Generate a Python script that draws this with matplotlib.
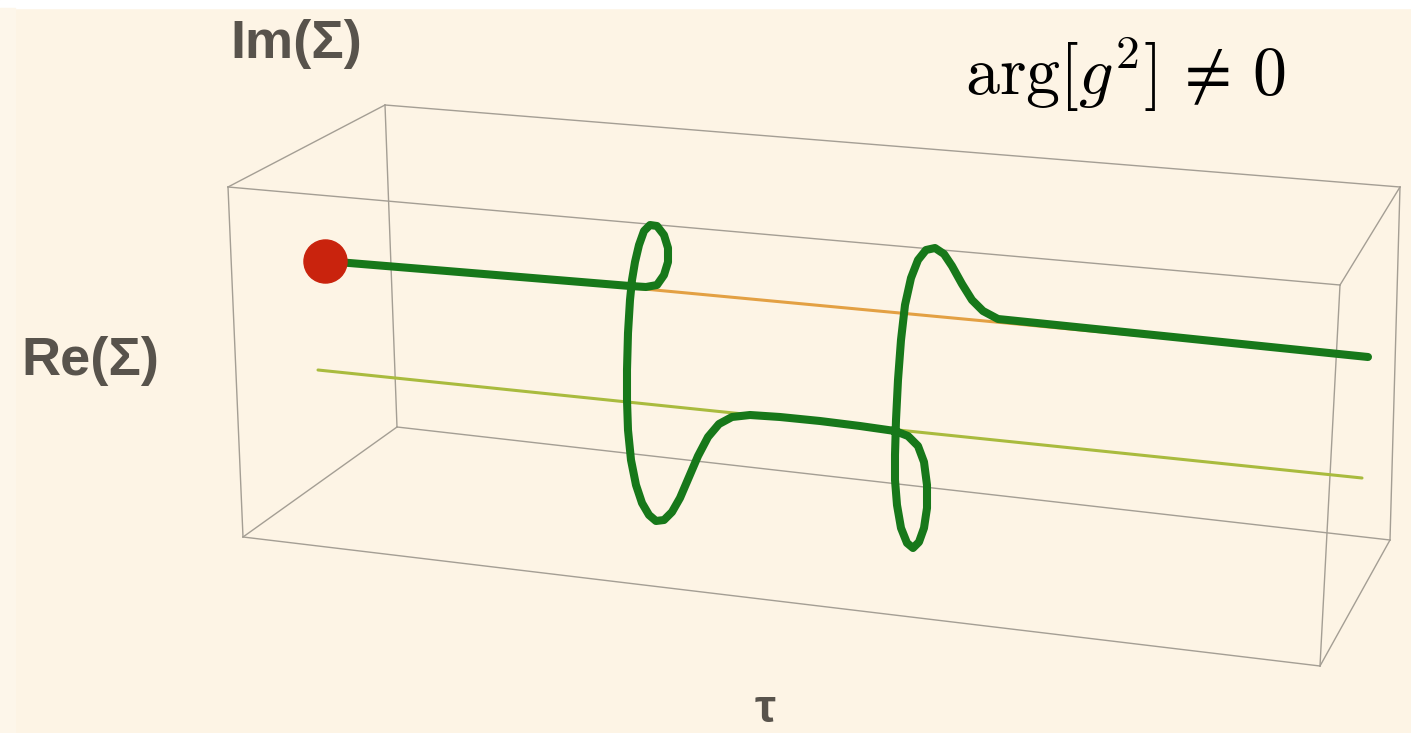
import matplotlib.pyplot as plt
from matplotlib.patches import Rectangle

# Box corners in image coordinates (x to the right, y downwards)
box_corners = {
    "ftl": (228, 187), "btl": (385, 105), "btr": (1400, 187), "ftr": (1340, 285),
    "fbl": (243, 537), "bbl": (397, 427), "bbr": (1390, 540), "fbr": (1320, 666),
}
box_edges = [
    ("ftl", "btl"), ("btl", "btr"), ("btr", "ftr"), ("ftr", "ftl"),
    ("fbl", "bbl"), ("bbl", "bbr"), ("bbr", "fbr"), ("fbr", "fbl"),
    ("ftl", "fbl"), ("btl", "bbl"), ("btr", "bbr"), ("ftr", "fbr"),
]

# Reference lines inside the box
upper_x = [325, 1368]
upper_y = [259, 357]
lower_x = [318, 1362]
lower_y = [370, 478]

# Sigma(tau) trajectory
curve_x = [325, 630, 646, 657, 664, 668, 668, 664, 657, 650, 644, 639, 635, 632,
           630, 628, 627, 627, 628, 631, 636, 642, 649, 656, 664, 672, 680, 689,
           698, 708, 719, 732, 750, 780, 820, 860, 895, 908, 918, 924, 927, 927,
           924, 919, 913, 907, 901, 897, 895, 895, 896, 898, 901, 905, 911, 918,
           926, 935, 944, 952, 962, 972, 983, 998, 1368]
curve_y = [261, 286, 287, 285, 275, 262, 248, 235, 226, 225, 231, 245, 262, 280,
           300, 333, 370, 400, 430, 460, 485, 503, 515, 521, 520, 512, 498, 477,
           456, 437, 424, 417, 415, 417, 421, 426, 431, 436, 446, 462, 485, 508,
           528, 542, 548, 543, 528, 505, 480, 455, 420, 380, 340, 305, 278, 260,
           250, 248, 254, 266, 284, 300, 311, 319, 357]

start_x, start_y = 325, 261

W, H = 1411, 733
fig = plt.figure(figsize=(W / 100, H / 100), dpi=100)
fig.patch.set_facecolor("#fdf4e5")
ax = fig.add_axes([0, 0, 1, 1])
ax.set_xlim(0, W)
ax.set_ylim(H, 0)
ax.axis("off")

# page margins
ax.add_patch(Rectangle((0, 0), W, 8, color="white", zorder=0))
ax.add_patch(Rectangle((0, 8), 15, H, color="#fdf6ea", zorder=0))

box_color = "#a49e94"
for a, b in box_edges:
    (x0, y0), (x1, y1) = box_corners[a], box_corners[b]
    ax.plot([x0, x1], [y0, y1], color=box_color, lw=1.0, zorder=1)

ax.plot(upper_x, upper_y, color="#e3a043", lw=2.2, zorder=2, solid_capstyle="round")
ax.plot(lower_x, lower_y, color="#a9bb3e", lw=2.2, zorder=2, solid_capstyle="round")

ax.plot(curve_x, curve_y, color="#17781a", lw=5.8, zorder=3,
        solid_joinstyle="round", solid_capstyle="round")
ax.plot(start_x, start_y, "o", color="#c9230d", ms=31, mec="#c9230d", zorder=4)

label_kw = dict(family=["Liberation Sans", "DejaVu Sans"], fontweight="bold",
                color="#58534c", fontsize=39)
ax.text(296, 58, "Im(Σ)", ha="center", va="baseline", **label_kw)
ax.text(90, 375, "Re(Σ)", ha="center", va="baseline", **label_kw)
ax.text(765, 722, "τ", ha="center", va="baseline",
        **{**label_kw, "fontsize": 34})

plt.rcParams["mathtext.fontset"] = "cm"
ax.text(965, 95, r"$\arg[g^2]\,\neq\,0$", ha="left", va="baseline",
        fontsize=49, color="black")

fig.savefig("out.png", dpi=100, facecolor=fig.get_facecolor())
